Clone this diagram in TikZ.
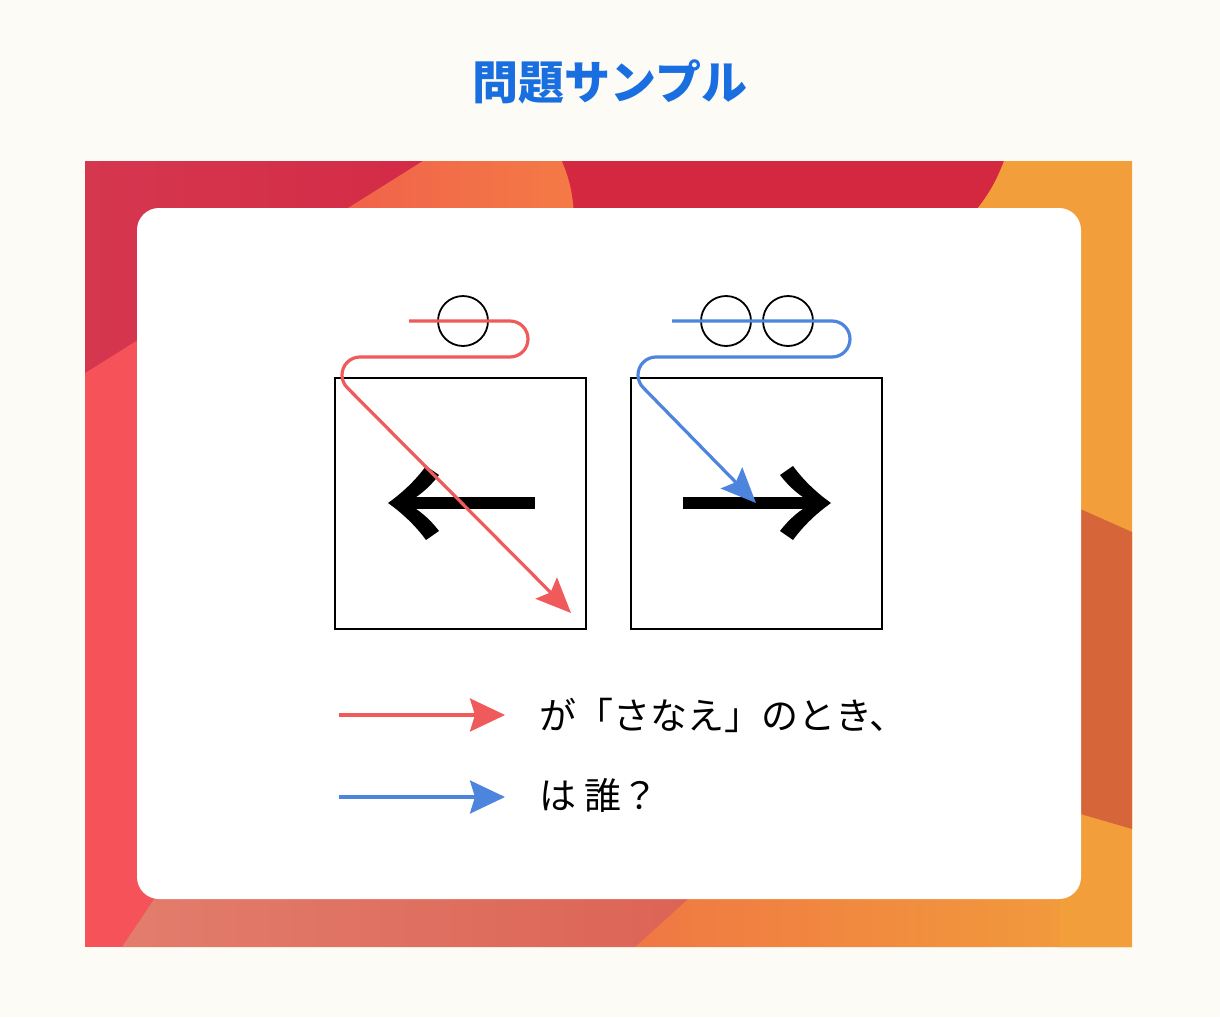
\documentclass[tikz,border=0pt]{standalone}
\usepackage{fontspec}
\newfontfamily\cjk{Noto Sans CJK JP}
\usetikzlibrary{arrows.meta}
\definecolor{bgc}{HTML}{FDFBF6}
\definecolor{coral}{HTML}{F55359}
\definecolor{crimA}{HTML}{D5374F}
\definecolor{crimB}{HTML}{D42B47}
\definecolor{crimM}{HTML}{D42740}
\definecolor{orA}{HTML}{F0624A}
\definecolor{orB}{HTML}{F47A46}
\definecolor{yel}{HTML}{F29F3B}
\definecolor{dark}{HTML}{D6663A}
\definecolor{salA}{HTML}{E27D6C}
\definecolor{salB}{HTML}{DC6355}
\definecolor{borA}{HTML}{F07843}
\definecolor{titleblue}{HTML}{1A6FE0}
\definecolor{redline}{HTML}{F15A5A}
\definecolor{blueline}{HTML}{4D85DE}
\tikzset{
  panel/.style={draw=black, line width=2pt, minimum size=251pt, inner sep=0pt},
  ring/.style={draw=black, circle, line width=1.8pt, minimum size=50pt, inner sep=0pt},
  redpath/.style={draw=redline, line width=3.2pt, line join=round,
    -{Stealth[length=35pt, width=30pt, inset=6pt]}},
  bluepath/.style={draw=blueline, line width=3.2pt, line join=round,
    -{Stealth[length=35pt, width=30pt, inset=6pt]}},
  legred/.style={draw=redline, line width=3.2pt, -{Stealth[length=35pt, width=33pt, inset=5pt]}},
  legblue/.style={draw=blueline, line width=3.2pt, -{Stealth[length=35pt, width=33pt, inset=5pt]}},
  legtext/.style={anchor=west, inner sep=0pt, font=\cjk\fontsize{37}{42}\selectfont},
  shaft/.style={line width=12pt, draw=black}
}
\begin{document}
\begin{tikzpicture}[x=1pt,y=-1pt]
\useasboundingbox (0,0) rectangle (1220,1017);
\fill[bgc] (0,0) rectangle (1220,1017);
% frame
\begin{scope}
\clip (85,161) rectangle (1132,947);
\fill[coral] (85,161) rectangle (1132,947);
\shade[left color=crimA, right color=crimB] (85,161) -- (423,161) -- (85,373) -- cycle;
\shade[left color=orA, right color=orB] (423,161) -- (562,161) .. controls (570,180) and (573,195) .. (574,215) -- (337,215) -- cycle;
\fill[crimM] (562,161) -- (1004,161) .. controls (995,185) and (985,200) .. (972,215) -- (574,215) .. controls (573,195) and (570,180) .. (562,161) -- cycle;
\shade[left color=borA, right color=yel] (691,880) -- (1132,880) -- (1132,947) -- (635,947) -- cycle;
\fill[yel] (1004,161) -- (1132,161) -- (1132,947) -- (1060,947) -- (1060,215) -- (972,215) .. controls (985,200) and (995,185) .. (1004,161) -- cycle;
\fill[dark] (1060,500) -- (1132,532) -- (1132,829) -- (1060,808) -- cycle;
\shade[left color=salA, right color=salB] (167,880) -- (709,880) -- (635,947) -- (122,947) -- cycle;
\end{scope}
% white card
\fill[white, rounded corners=22pt] (137,208) rectangle (1081,899);
% title
\node[text=titleblue, font=\cjk\bfseries\fontsize{46}{52}\selectfont] (title) at (610,82) {問題サンプル};
% panels
\node[panel] (boxL) at (460.5,503.5) {};
\node[panel] (boxR) at (756.5,503.5) {};
% big black arrows
\draw[shaft] (402,503) -- (535,503);
\fill[black] (388,503) .. controls (402,493) and (415,481) .. (426,466) -- (439,475) .. controls (429,488) and (418,497) .. (406,503) .. controls (418,509) and (429,518) .. (439,531) -- (426,540) .. controls (415,525) and (402,513) .. (388,503) -- cycle;
\draw[shaft] (683,503) -- (817,503);
\fill[black] (831,503) .. controls (817,493) and (804,481) .. (793,466) -- (780,475) .. controls (790,488) and (801,497) .. (813,503) .. controls (801,509) and (790,518) .. (780,531) -- (793,540) .. controls (804,525) and (817,513) .. (831,503) -- cycle;
% rings
\node[ring] (c1) at (463,321) {};
\node[ring] (c2) at (726,321) {};
\node[ring] (c3) at (788,321) {};
% paths
\coordinate (rs) at (409,321);
\coordinate (rt) at (571,613);
\coordinate (bs) at (672,321);
\coordinate (bt) at (756,503);
\draw[redpath] (rs) -- (510,321) arc[start angle=-90, end angle=90, radius=18] -- (360,357) arc[start angle=-90, end angle=-225, radius=18] -- (rt);
\draw[bluepath] (bs) -- (832,321) arc[start angle=-90, end angle=90, radius=18] -- (656,357) arc[start angle=-90, end angle=-225, radius=18] -- (bt);
% legend
\coordinate (l1s) at (339,715);
\coordinate (l1e) at (505,715);
\coordinate (l2s) at (339,797);
\coordinate (l2e) at (505,797);
\draw[legred] (l1s) -- (l1e);
\draw[legblue] (l2s) -- (l2e);
\node[legtext] (t1) at (539,715) {が「さなえ」のとき、};
\node[legtext] (t2) at (539,795) {は 誰？};
\end{tikzpicture}
\end{document}
